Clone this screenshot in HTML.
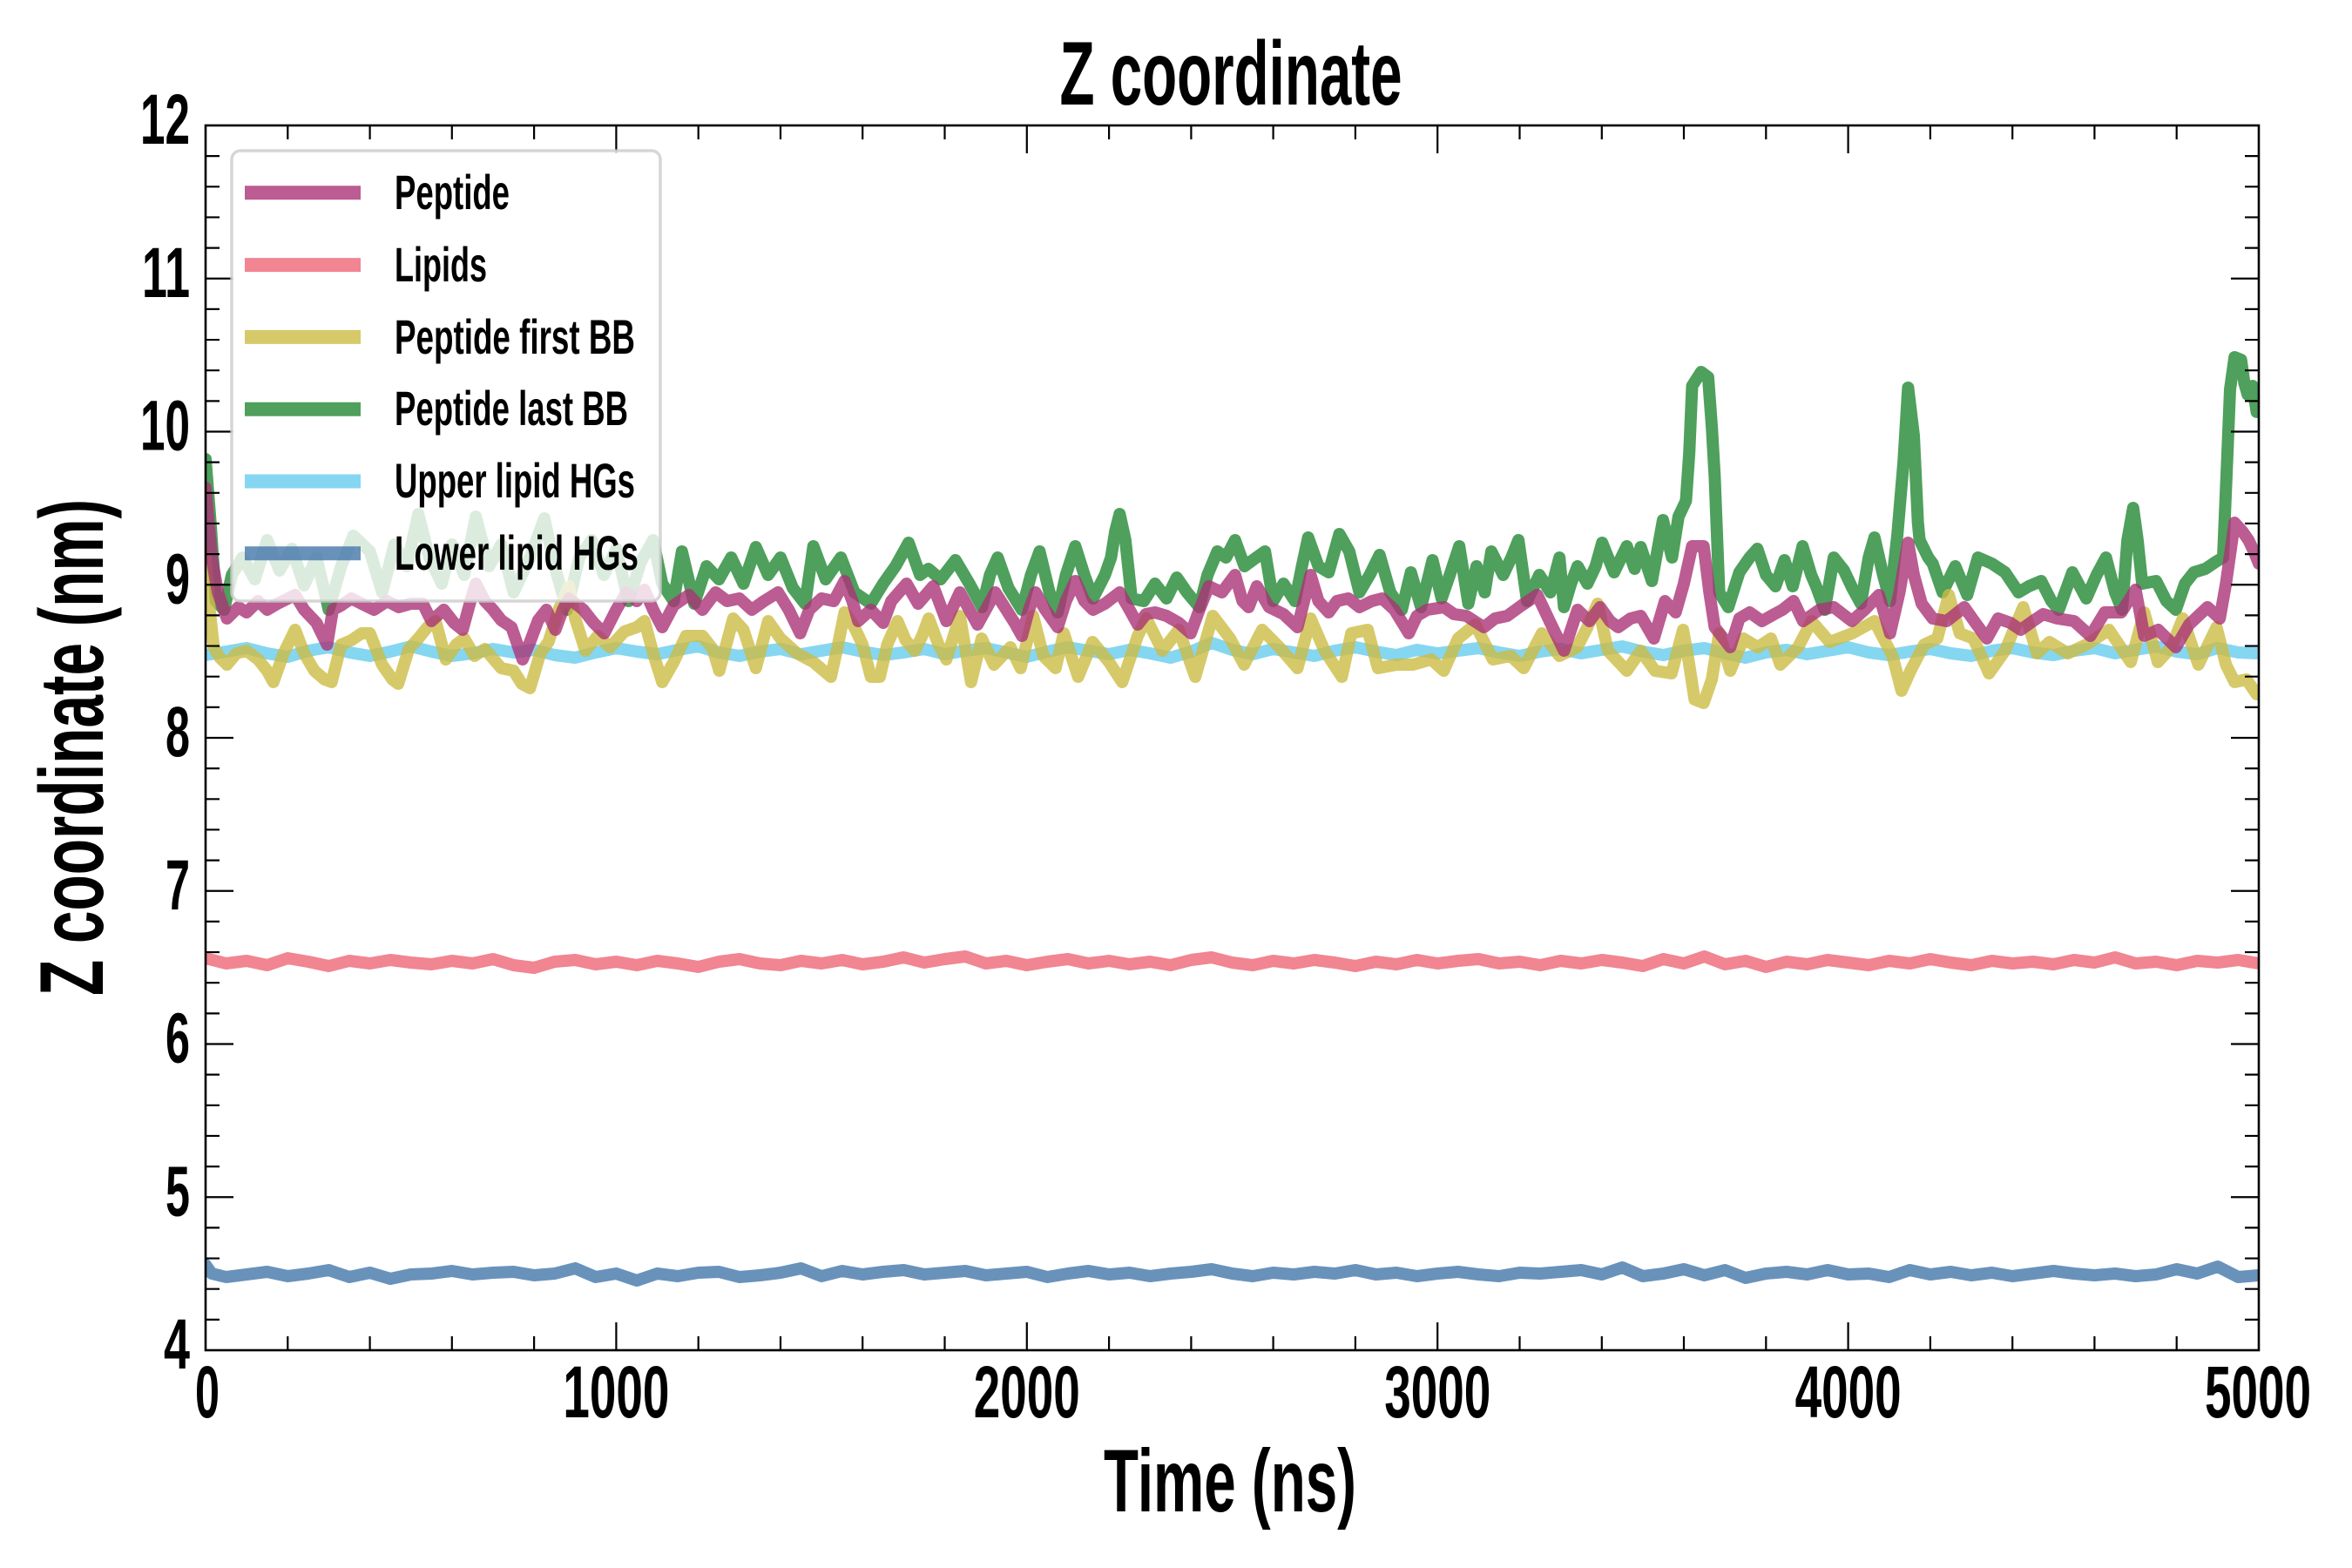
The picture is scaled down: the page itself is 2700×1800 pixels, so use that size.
<!DOCTYPE html>
<html>
<head>
<meta charset="utf-8">
<style>
html,body{margin:0;padding:0;background:#fff;}
svg{display:block;}
text{font-family:"Liberation Sans",sans-serif;font-weight:bold;fill:#000;}
</style>
</head>
<body>
<svg width="2700" height="1800" viewBox="0 0 2700 1800" xmlns="http://www.w3.org/2000/svg">
<defs>
<clipPath id="ax"><rect x="236" y="144" width="2357" height="1406"/></clipPath>
</defs>
<rect x="0" y="0" width="2700" height="1800" fill="#fff"/>

<g clip-path="url(#ax)" fill="none" stroke-linejoin="round" stroke-linecap="round" stroke-opacity="0.8" stroke-width="14">
<!-- Lower lipid HGs -->
<polyline stroke="#4477AA" points="236,1452 243.1,1462 259.6,1466 283.1,1463 306.7,1460 330.3,1465 353.9,1462 377.4,1458 401,1466 424.6,1461 448.1,1468 471.7,1463 495.3,1462 518.8,1459 542.4,1463 566,1461 589.6,1460 613.1,1464 636.7,1462 660.3,1456 683.8,1466 707.4,1462 731,1470 754.5,1462 778.1,1465 801.7,1461 825.3,1460 848.8,1466 872.4,1464 896,1461 919.5,1456 943.1,1465 966.7,1459 990.2,1463 1013.8,1460 1037.4,1458 1061,1463 1084.5,1461 1108.1,1459 1131.7,1464 1155.2,1462 1178.8,1460 1202.4,1466 1225.9,1462 1249.5,1459 1273.1,1463 1296.7,1461 1320.2,1465 1343.8,1462 1367.4,1460 1390.9,1457 1414.5,1462 1438.1,1465 1461.6,1461 1485.2,1463 1508.8,1460 1532.4,1462 1555.9,1458 1579.5,1463 1603.1,1461 1626.6,1465 1650.2,1462 1673.8,1460 1697.3,1463 1720.9,1465 1744.5,1461 1768.1,1462 1791.6,1460 1815.2,1458 1838.8,1463 1862.3,1455 1885.9,1465 1909.5,1462 1933,1457 1956.6,1464 1980.2,1458 2003.8,1467 2027.3,1462 2050.9,1460 2074.5,1463 2098,1458 2121.6,1463 2145.2,1462 2168.7,1466 2192.3,1458 2215.9,1463 2239.5,1460 2263,1464 2286.6,1461 2310.2,1465 2333.7,1462 2357.3,1459 2380.9,1462 2404.4,1464 2428,1462 2451.6,1465 2475.2,1463 2498.7,1457 2522.3,1462 2545.9,1454 2569.4,1466 2593,1464"/>
<!-- Upper lipid HGs -->
<polyline stroke="#66CCEE" points="236,752 259.6,748 283.1,744 306.7,750 330.3,754 353.9,747 377.4,743 401,749 424.6,753 448.1,748 471.7,742 495.3,748 518.8,753 542.4,750 566,745 589.6,749 613.1,746 636.7,752 660.3,755 683.8,749 707.4,744 731,748 754.5,751 778.1,746 801.7,742 825.3,749 848.8,753 872.4,748 896,745 919.5,751 943.1,747 966.7,743 990.2,748 1013.8,752 1037.4,749 1061,745 1084.5,751 1108.1,747 1131.7,744 1155.2,749 1178.8,754 1202.4,748 1225.9,743 1249.5,747 1273.1,751 1296.7,746 1320.2,750 1343.8,755 1367.4,748 1390.9,738 1414.5,746 1438.1,751 1461.6,745 1485.2,749 1508.8,753 1532.4,747 1555.9,743 1579.5,748 1603.1,752 1626.6,746 1650.2,750 1673.8,747 1697.3,744 1720.9,749 1744.5,753 1768.1,748 1791.6,745 1815.2,750 1838.8,746 1862.3,742 1885.9,748 1909.5,752 1933,747 1956.6,744 1980.2,750 2003.8,755 2027.3,749 2050.9,746 2074.5,751 2098,747 2121.6,743 2145.2,749 2168.7,752 2192.3,748 2215.9,745 2239.5,750 2263,753 2286.6,747 2310.2,744 2333.7,749 2357.3,752 2380.9,747 2404.4,744 2428,750 2451.6,746 2475.2,742 2498.7,748 2522.3,751 2545.9,744 2569.4,749 2593,750"/>
<!-- Peptide last BB -->
<polyline stroke="#228833" points="236,527 241.7,600 247.8,690 257.2,700 266.2,660 278.4,640 292.6,665 306.7,620 320.9,655 335,630 349.1,672 363.3,640 377.4,700 391.6,650 405.7,615 424.6,633 438.7,680 452.8,625 467,650 480.2,590 492.9,640 507.1,670 518.8,625 533,660 546.2,593 561.3,650 575.4,625 589.6,680 608.4,640 624.9,595 636.7,650 650.8,700 665,640 679.1,620 693.3,660 707.4,630 721.5,690 735.7,645 749.8,620 760.2,670 773.4,690 782.8,633 797,693 811.1,650 825.3,665 839.4,640 853.5,670 867.7,628 881.8,660 896,640 910.1,675 924.2,693 933.7,627 947.8,665 965.3,640 980.8,680 999.7,693 1013.8,670 1028,650 1043,623 1056.2,660 1065.7,653 1079.8,665 1096.8,643 1112.8,670 1127.4,697 1136.4,660 1145.3,640 1157.6,675 1173.1,700 1183.5,660 1193.4,633 1204.7,680 1214.2,703 1223.6,660 1234.4,627 1244.8,660 1254.7,687 1268.4,660 1275.4,640 1280.2,610 1285.3,590 1291.9,620 1299,687 1313.1,690 1325.9,670 1339.1,687 1350.9,663 1362.6,680 1376.8,697 1386.2,660 1397.5,633 1407.4,640 1417.8,620 1428.6,650 1438.1,643 1452.2,633 1461.6,690 1473.4,670 1486.6,690 1494.6,650 1501.7,617 1513.5,650 1525.3,657 1537.5,613 1548.9,633 1560.6,680 1572.4,660 1583.7,637 1596,680 1609.2,700 1619.6,657 1631.3,697 1644.5,643 1654.9,687 1664.3,660 1675.2,627 1685.6,693 1695,650 1704.4,680 1712,633 1725.6,660 1735.1,640 1743.1,620 1753,690 1767.1,660 1779.8,680 1790.2,640 1795.4,697 1803.4,670 1811,650 1822.3,670 1831.7,650 1839.2,623 1852.9,657 1867.5,627 1876.5,653 1883.5,628 1896.3,667 1909,597 1919.4,640 1926.9,593 1935.4,575 1939.2,520 1942.5,443 1952.8,427 1960.9,433 1965.1,490 1968.4,547 1973.6,680 1984,697 1996.7,657 2008.5,640 2017.4,630 2027.3,660 2038.2,673 2048.5,643 2058,673 2069.3,627 2079.2,660 2084.8,673 2094.7,700 2105.1,640 2116.9,655 2126.3,675 2136.2,693 2145.2,640 2151.8,617 2161.7,660 2169.7,690 2178.2,613 2185.2,530 2190.4,445 2197,500 2201.7,600 2203.6,620 2213.5,640 2218.7,647 2230,680 2244.6,650 2258.3,683 2270.6,640 2286.6,647 2301.7,657 2317.2,680 2329,673 2343.2,667 2354.9,690 2363.4,700 2379,657 2395,687 2406.8,660 2417.6,640 2428,680 2436,700 2442.2,620 2448.8,583 2453.9,620 2459.1,670 2475.2,667 2486.9,690 2497.8,700 2508.2,670 2518.5,657 2531.7,653 2543.5,645 2552,640 2556.2,540 2560,447 2565.2,410 2572.7,413 2576.5,440 2580.3,453 2585.9,443 2590.6,473 2593,470"/>
<!-- Peptide first BB -->
<polyline stroke="#CCBB44" points="236,640 240.7,700 245.4,743 252.5,755 260.5,763 271.4,750 283.1,747 296.3,757 306.7,770 313.8,783 325.6,750 338.8,723 349.1,750 360.9,770 372.7,780 380.7,783 391.6,740 403.3,735 415.1,727 424.6,727 438.7,763 450.5,780 457.1,785 469.3,745 480.2,733 490.6,720 500,713 511.8,757 523.6,740 533,733 544.8,753 556.6,745 575.4,767 589.6,770 599,785 608.4,790 620.2,750 629.6,737 641.4,700 653.2,673 660.3,710 672,747 686.2,730 700.3,743 716.8,725 731,720 739.9,713 749.8,750 760.2,783 773.4,760 787.5,730 806.4,730 818.2,745 825.7,770 841.7,710 853.5,723 867.7,767 881.8,713 896,733 914.8,750 933.7,760 953.9,777 962,740 969.5,703 980.8,720 990.2,740 999.7,777 1010,777 1018.5,740 1030.3,713 1039.7,735 1050.1,747 1058.6,730 1066.1,710 1077.4,740 1086.4,757 1101.9,707 1114.7,783 1126.9,733 1141.1,763 1159.9,743 1171.7,767 1185.9,707 1197.7,753 1211.8,767 1221.2,727 1237.7,777 1254.2,737 1273.1,760 1288.2,783 1306.1,730 1316,710 1334.4,747 1353.2,723 1372.1,777 1392.3,707 1412.1,733 1428.2,763 1448.9,723 1468.7,743 1489.5,767 1504.5,710 1520.6,747 1540.4,777 1551.2,727 1570.1,723 1581.8,767 1603,763 1621.9,763 1643.1,757 1657.3,770 1673.8,733 1693.6,717 1713.8,757 1734.1,753 1749.2,767 1770,727 1790.2,753 1810.5,743 1822.3,720 1834,693 1845.8,747 1867.5,770 1883.5,747 1900,770 1918.9,773 1932.1,723 1938.7,760 1945.3,803 1955.7,807 1965.1,780 1973.6,727 1986.3,770 2001.4,733 2017.9,743 2033,733 2043.8,763 2064.1,743 2079.7,713 2100.4,737 2126.3,727 2151.8,713 2172.5,753 2182.9,793 2193.2,770 2208.8,740 2223.9,733 2237.1,683 2249.8,727 2265.4,733 2283.3,773 2301.7,747 2322.6,697 2338.4,750 2352.6,737 2373.8,750 2395,740 2421,723 2446,760 2461.5,703 2477.1,760 2492.6,743 2505.8,710 2523.7,763 2544.5,720 2555.3,763 2565.2,783 2578.9,780 2590.6,797 2593,795"/>
<!-- Lipids -->
<polyline stroke="#EE6677" points="236,1100 259.6,1106 283.1,1103 306.7,1108 330.3,1100 353.9,1104 377.4,1109 401,1103 424.6,1106 448.1,1102 471.7,1105 495.3,1107 518.8,1103 542.4,1106 566,1101 589.6,1108 613.1,1111 636.7,1104 660.3,1102 683.8,1107 707.4,1104 731,1108 754.5,1103 778.1,1106 801.7,1110 825.3,1104 848.8,1101 872.4,1106 896,1108 919.5,1103 943.1,1106 966.7,1102 990.2,1107 1013.8,1104 1037.4,1099 1061,1105 1084.5,1101 1108.1,1098 1131.7,1106 1155.2,1103 1178.8,1108 1202.4,1104 1225.9,1101 1249.5,1106 1273.1,1103 1296.7,1107 1320.2,1104 1343.8,1108 1367.4,1102 1390.9,1099 1414.5,1105 1438.1,1108 1461.6,1103 1485.2,1106 1508.8,1102 1532.4,1105 1555.9,1109 1579.5,1104 1603.1,1107 1626.6,1102 1650.2,1106 1673.8,1103 1697.3,1101 1720.9,1106 1744.5,1104 1768.1,1108 1791.6,1103 1815.2,1106 1838.8,1102 1862.3,1105 1885.9,1109 1909.5,1101 1933,1106 1956.6,1098 1980.2,1107 2003.8,1103 2027.3,1110 2050.9,1104 2074.5,1107 2098,1102 2121.6,1105 2145.2,1108 2168.7,1103 2192.3,1106 2215.9,1101 2239.5,1105 2263,1108 2286.6,1103 2310.2,1106 2333.7,1104 2357.3,1107 2380.9,1102 2404.4,1105 2428,1099 2451.6,1106 2475.2,1104 2498.7,1108 2522.3,1103 2545.9,1105 2569.4,1102 2593,1106"/>
<!-- Peptide -->
<polyline stroke="#AA3377" points="236,560 237.4,577 243.1,640 250.1,680 260.5,710 273.7,697 283.1,703 296.3,690 306.7,700 318.5,693 338.8,683 349.1,700 363.3,715 375.5,740 382.1,700 391.6,695 403.3,687 415.1,693 429.3,700 444.4,690 457.6,697 471.7,693 485.4,693 495.3,713 509.4,700 521.2,715 531.1,723 540.1,690 546.2,670 556.6,690 566,700 575.4,712 587.2,720 599.9,757 608.4,737 617.8,712 627.3,700 637.6,723 646.1,700 653.2,687 669.7,700 681.5,715 693.7,727 707.4,700 719.2,680 731,690 739.9,677 749.8,700 760.2,720 773.4,695 790.8,683 806.4,700 821.5,680 834.7,690 848.8,687 863,700 877.1,690 893.1,680 905.4,700 918.6,727 929,700 943.1,687 957.2,690 969.5,667 978.5,690 985.1,713 999.7,700 1013.8,715 1023.2,690 1040.7,670 1053.9,693 1071.3,673 1086.4,713 1101.9,680 1112.8,700 1122.2,717 1142.5,680 1155.2,700 1164.7,715 1173.1,730 1181.2,700 1188.7,680 1200,700 1214.2,720 1223.6,690 1234.4,667 1244.8,690 1254.7,700 1268.4,693 1285.3,680 1296.7,700 1306.1,717 1315.5,705 1325.9,703 1339.1,707 1353.2,715 1366.9,727 1376.8,700 1387.6,673 1402.7,680 1417.8,660 1426.3,690 1433.4,697 1442.8,673 1456.9,697 1473.4,705 1489.5,720 1504.5,660 1513.5,690 1525.3,703 1534.7,690 1547.9,687 1560.6,697 1574.8,690 1586.6,687 1600.7,700 1617.2,727 1626.6,707 1638.4,700 1657.7,697 1669,705 1683.2,707 1703.5,720 1716.2,710 1730.3,707 1746.8,695 1764.7,683 1779.8,715 1795.4,747 1811,700 1824.6,713 1836.9,697 1848.2,713 1857.6,720 1871.8,710 1883.5,707 1898.6,733 1911.3,690 1923.6,703 1933,670 1942.5,627 1955.7,627 1962.3,680 1968.4,720 1986.3,743 1996.7,710 2008.5,703 2022.6,713 2036.8,705 2046.2,700 2058.9,690 2069.8,713 2088.6,700 2105.1,697 2125.8,713 2140.5,700 2157,683 2169.7,727 2180.5,680 2190.4,623 2197,660 2206,693 2218.7,710 2234.7,713 2254.9,697 2267.7,715 2280.9,733 2293.7,710 2307.8,715 2319.6,723 2333.7,713 2345.5,705 2362,710 2380.9,713 2399.7,730 2416.2,703 2435.1,703 2451.6,677 2461.5,730 2477.5,723 2497.8,743 2512.9,717 2534.1,697 2548.2,710 2555.3,670 2565.2,600 2574.2,610 2581.2,620 2588.3,635 2593,647"/>
</g>

<!-- ticks -->
<g stroke="#000" stroke-width="2.2" fill="none">
<path d="M707.4,1550V1518M1178.8,1550V1518M1650.2,1550V1518M2121.6,1550V1518M707.4,144V176M1178.8,144V176M1650.2,144V176M2121.6,144V176"/>
<path d="M330.3,1550V1534M424.6,1550V1534M518.8,1550V1534M613.1,1550V1534M801.7,1550V1534M896,1550V1534M990.2,1550V1534M1084.5,1550V1534M1273.1,1550V1534M1367.4,1550V1534M1461.6,1550V1534M1555.9,1550V1534M1744.5,1550V1534M1838.8,1550V1534M1933,1550V1534M2027.3,1550V1534M2215.9,1550V1534M2310.2,1550V1534M2404.4,1550V1534M2498.7,1550V1534"/>
<path d="M330.3,144V160M424.6,144V160M518.8,144V160M613.1,144V160M801.7,144V160M896,144V160M990.2,144V160M1084.5,144V160M1273.1,144V160M1367.4,144V160M1461.6,144V160M1555.9,144V160M1744.5,144V160M1838.8,144V160M1933,144V160M2027.3,144V160M2215.9,144V160M2310.2,144V160M2404.4,144V160M2498.7,144V160"/>
<path d="M236,319.75h32M236,495.5h32M236,671.25h32M236,847h32M236,1022.75h32M236,1198.5h32M236,1374.25h32M2593,319.75h-32M2593,495.5h-32M2593,671.25h-32M2593,847h-32M2593,1022.75h-32M2593,1198.5h-32M2593,1374.25h-32"/>
<path d="M236,179.15h16M236,214.3h16M236,249.45h16M236,284.6h16M236,354.9h16M236,390.05h16M236,425.2h16M236,460.35h16M236,530.65h16M236,565.8h16M236,600.95h16M236,636.1h16M236,706.4h16M236,741.55h16M236,776.7h16M236,811.85h16M236,882.15h16M236,917.3h16M236,952.45h16M236,987.6h16M236,1057.9h16M236,1093.05h16M236,1128.2h16M236,1163.35h16M236,1233.65h16M236,1268.8h16M236,1303.95h16M236,1339.1h16M236,1409.4h16M236,1444.55h16M236,1479.7h16M236,1514.85h16"/>
<path d="M2593,179.15h-16M2593,214.3h-16M2593,249.45h-16M2593,284.6h-16M2593,354.9h-16M2593,390.05h-16M2593,425.2h-16M2593,460.35h-16M2593,530.65h-16M2593,565.8h-16M2593,600.95h-16M2593,636.1h-16M2593,706.4h-16M2593,741.55h-16M2593,776.7h-16M2593,811.85h-16M2593,882.15h-16M2593,917.3h-16M2593,952.45h-16M2593,987.6h-16M2593,1057.9h-16M2593,1093.05h-16M2593,1128.2h-16M2593,1163.35h-16M2593,1233.65h-16M2593,1268.8h-16M2593,1303.95h-16M2593,1339.1h-16M2593,1409.4h-16M2593,1444.55h-16M2593,1479.7h-16M2593,1514.85h-16"/>
</g>

<!-- legend -->
<g>
<rect x="266" y="173" width="492" height="517" rx="10" ry="10" fill="#fff" fill-opacity="0.8" stroke="#cccccc" stroke-opacity="0.8" stroke-width="3.5"/>
<g stroke-width="16" stroke-opacity="0.8">
<line x1="281" y1="221.3" x2="414" y2="221.3" stroke="#AA3377"/>
<line x1="281" y1="304.1" x2="414" y2="304.1" stroke="#EE6677"/>
<line x1="281" y1="386.9" x2="414" y2="386.9" stroke="#CCBB44"/>
<line x1="281" y1="469.7" x2="414" y2="469.7" stroke="#228833"/>
<line x1="281" y1="552.5" x2="414" y2="552.5" stroke="#66CCEE"/>
<line x1="281" y1="635.3" x2="414" y2="635.3" stroke="#4477AA"/>
</g>
<text x="453" y="240" font-size="56" textLength="132" lengthAdjust="spacingAndGlyphs">Peptide</text>
<text x="453" y="323" font-size="56" textLength="106" lengthAdjust="spacingAndGlyphs">Lipids</text>
<text x="453" y="406" font-size="56" textLength="276" lengthAdjust="spacingAndGlyphs">Peptide first BB</text>
<text x="453" y="488" font-size="56" textLength="268" lengthAdjust="spacingAndGlyphs">Peptide last BB</text>
<text x="453" y="571" font-size="56" textLength="276" lengthAdjust="spacingAndGlyphs">Upper lipid HGs</text>
<text x="453" y="654" font-size="56" textLength="280" lengthAdjust="spacingAndGlyphs">Lower lipid HGs</text>
</g>

<!-- spines -->
<rect x="236" y="144" width="2357" height="1406" fill="none" stroke="#000" stroke-width="2.6"/>

<!-- y tick labels -->
<g font-size="82" text-anchor="end">
<text x="218" y="165" textLength="57" lengthAdjust="spacingAndGlyphs">12</text>
<text x="218" y="340.75" textLength="55" lengthAdjust="spacingAndGlyphs">11</text>
<text x="218" y="516.5" textLength="57" lengthAdjust="spacingAndGlyphs">10</text>
<text x="218" y="692.25" textLength="28" lengthAdjust="spacingAndGlyphs">9</text>
<text x="218" y="868" textLength="28" lengthAdjust="spacingAndGlyphs">8</text>
<text x="218" y="1043.75" textLength="28" lengthAdjust="spacingAndGlyphs">7</text>
<text x="218" y="1219.5" textLength="28" lengthAdjust="spacingAndGlyphs">6</text>
<text x="218" y="1395.25" textLength="28" lengthAdjust="spacingAndGlyphs">5</text>
<text x="218" y="1571" textLength="30" lengthAdjust="spacingAndGlyphs">4</text>
</g>
<!-- x tick labels -->
<g font-size="84" text-anchor="middle">
<text x="238" y="1627" textLength="28" lengthAdjust="spacingAndGlyphs">0</text>
<text x="707.4" y="1627" textLength="122" lengthAdjust="spacingAndGlyphs">1000</text>
<text x="1178.8" y="1627" textLength="122" lengthAdjust="spacingAndGlyphs">2000</text>
<text x="1650.2" y="1627" textLength="122" lengthAdjust="spacingAndGlyphs">3000</text>
<text x="2121.6" y="1627" textLength="122" lengthAdjust="spacingAndGlyphs">4000</text>
<text x="2592" y="1627" textLength="122" lengthAdjust="spacingAndGlyphs">5000</text>
</g>

<!-- title and axis labels -->
<text x="1413" y="120" font-size="104" text-anchor="middle" textLength="393" lengthAdjust="spacingAndGlyphs">Z coordinate</text>
<text x="1412" y="1735" font-size="102" text-anchor="middle" textLength="290" lengthAdjust="spacingAndGlyphs">Time (ns)</text>
<text transform="translate(118,858) rotate(-90)" x="0" y="0" font-size="104" text-anchor="middle" textLength="570" lengthAdjust="spacingAndGlyphs">Z coordinate (nm)</text>
</svg>
</body>
</html>
